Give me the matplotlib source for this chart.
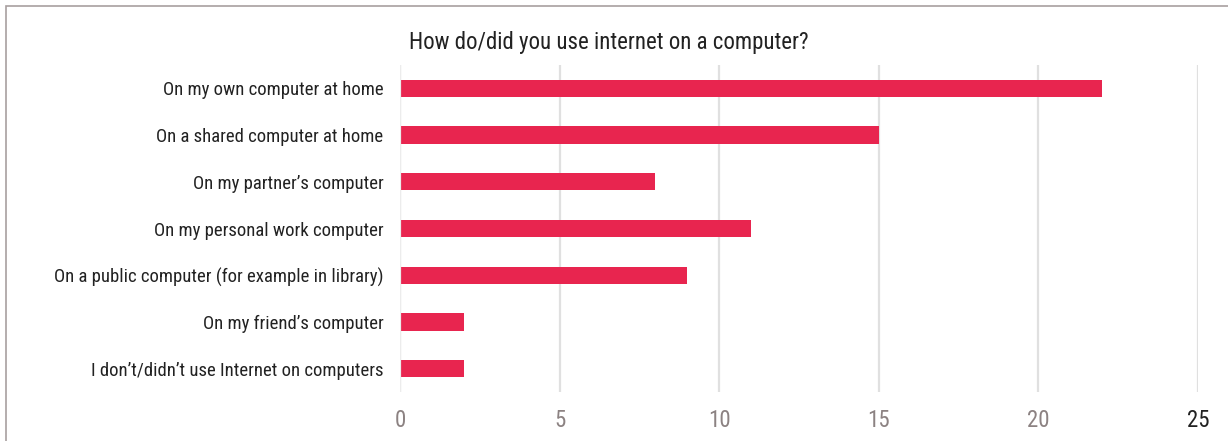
import matplotlib
matplotlib.use("Agg")
import matplotlib.pyplot as plt
from matplotlib.patches import Rectangle

categories = [
    "On my own computer at home",
    "On a shared computer at home",
    "On my partner\u2019s computer",
    "On my personal work computer",
    "On a public computer (for example in library)",
    "On my friend\u2019s computer",
    "I don\u2019t/didn\u2019t use Internet on computers",
]
values = [22, 15, 8, 11, 9, 2, 2]
xticks = [0, 5, 10, 15, 20, 25]
title = "How do/did you use internet on a computer?"

FONT = ["Liberation Sans Narrow", "Roboto Condensed", "DejaVu Sans"]
plt.rcParams["font.family"] = FONT

fig = plt.figure(figsize=(12.28, 4.41), dpi=100)
ax = fig.add_axes([400/1228, 1-392/441, 798/1228, (392-65)/441])

ypos = list(range(len(categories)))
ax.barh(ypos, values, height=0.37, color="#e8254f", zorder=2)
ax.set_ylim(len(categories)-0.5, -0.5)
ax.set_xlim(0, 25)
ax.set_xticks(xticks)
ax.set_xticklabels([str(t) for t in xticks], fontsize=16.5)
for i, lab in enumerate(ax.get_xticklabels()):
    lab.set_color("#222222" if i == len(xticks)-1 else "#8c8282")
ax.set_yticks(ypos)
ax.set_yticklabels(categories, fontsize=13.5, color="#222222")
for lab in ax.get_yticklabels():
    lab.set_va("center_baseline")
ax.tick_params(axis="both", length=0)
ax.tick_params(axis="y", pad=12)
ax.tick_params(axis="x", pad=12)
ax.grid(axis="x", color="#e0e0e0", linewidth=1.6, zorder=1)
ax.axvline(0, color="#ececec", linewidth=1.6, zorder=3)
for s in ax.spines.values():
    s.set_visible(False)

fig.text(609/1228, 1-42/441, title, ha="center", va="center", fontsize=16.5, color="#222222")

border = Rectangle((6/1228, -0.1), 1.2, 1-6/441+0.1, transform=fig.transFigure,
                   fill=False, edgecolor="#a8a0a0", linewidth=1.2)
fig.patches.append(border)

fig.savefig("out.png", dpi=100)
